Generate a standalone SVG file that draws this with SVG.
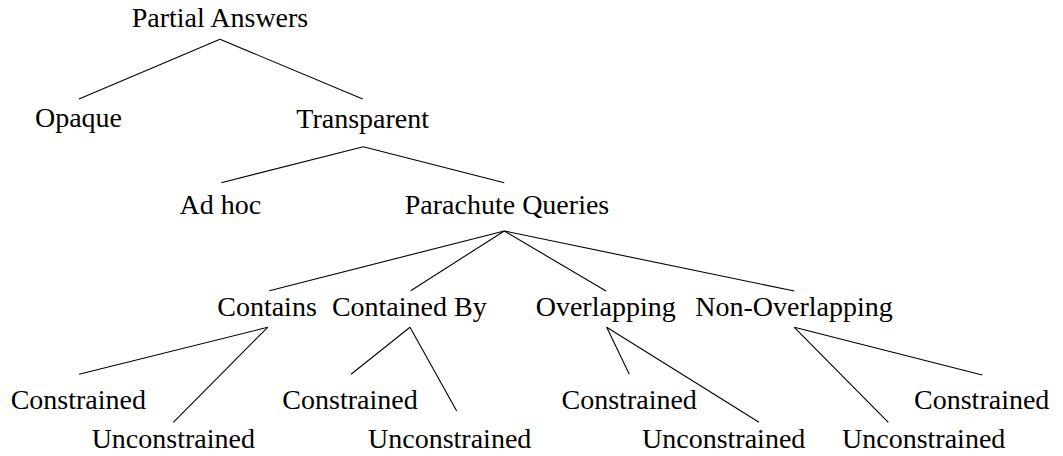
<svg xmlns="http://www.w3.org/2000/svg" width="1063" height="456" viewBox="0 0 1063 456">
<style>
text { font-family: "Liberation Serif", "Times New Roman", serif; font-size: 28px; fill: #000; text-anchor: middle; }
.edges line { stroke: #000; stroke-width: 1.1; fill: none; }
</style>
<rect width="1063" height="456" fill="#fff"/>
<g class="edges" id="connectors">
<line x1="220" y1="39.3" x2="79" y2="99"/>
<line x1="220" y1="39.3" x2="362.7" y2="99"/>
<line x1="363.3" y1="146.7" x2="221.3" y2="182.7"/>
<line x1="363.3" y1="146.7" x2="504.3" y2="182.7"/>
<line x1="504.3" y1="231" x2="269.3" y2="290.7"/>
<line x1="504.3" y1="231" x2="410.7" y2="290.7"/>
<line x1="504.3" y1="231" x2="606" y2="291"/>
<line x1="504.3" y1="231" x2="794.3" y2="291"/>
<line x1="267.7" y1="327.3" x2="79" y2="374.3"/>
<line x1="267.7" y1="327.3" x2="173.3" y2="422.3"/>
<line x1="410" y1="327.3" x2="351" y2="374.3"/>
<line x1="410" y1="327.3" x2="456.7" y2="411"/>
<line x1="606.7" y1="327.3" x2="629.3" y2="374.3"/>
<line x1="606.7" y1="327.3" x2="759" y2="422.3"/>
<line x1="794.3" y1="327.3" x2="888.3" y2="422.3"/>
<line x1="794.3" y1="327.3" x2="982.3" y2="375"/>
</g>
<g id="partial-answers"><text x="220" y="27">Partial Answers</text></g>
<g id="opaque"><text x="78.5" y="127">Opaque</text></g>
<g id="transparent"><text x="362.7" y="128">Transparent</text></g>
<g id="ad-hoc"><text x="220.3" y="213.5">Ad hoc</text></g>
<g id="parachute-queries"><text x="507" y="214">Parachute Queries</text></g>
<g id="contains"><text x="267" y="316">Contains</text></g>
<g id="contained-by"><text x="409.3" y="316">Contained By</text></g>
<g id="overlapping"><text x="605.7" y="316">Overlapping</text></g>
<g id="non-overlapping"><text x="794" y="316">Non-Overlapping</text></g>
<g id="contains-constrained"><text x="78.3" y="409">Constrained</text></g>
<g id="contains-unconstrained"><text x="173.3" y="448">Unconstrained</text></g>
<g id="containedby-constrained"><text x="350" y="409">Constrained</text></g>
<g id="containedby-unconstrained"><text x="449.7" y="448">Unconstrained</text></g>
<g id="overlapping-constrained"><text x="629.2" y="409">Constrained</text></g>
<g id="overlapping-unconstrained"><text x="723.7" y="448">Unconstrained</text></g>
<g id="nonoverlapping-unconstrained"><text x="923.7" y="448">Unconstrained</text></g>
<g id="nonoverlapping-constrained"><text x="981.7" y="409">Constrained</text></g>
</svg>
